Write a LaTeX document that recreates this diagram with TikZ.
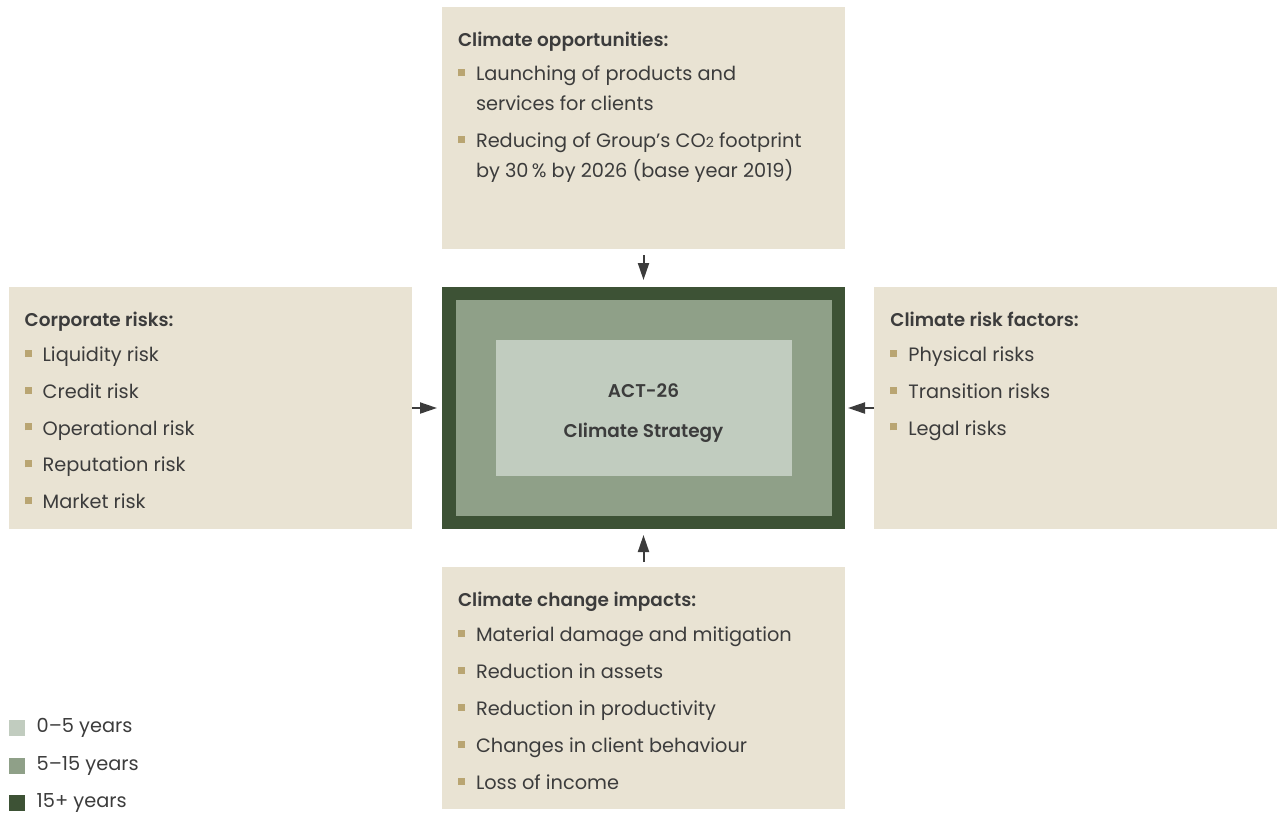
\documentclass[tikz,border=0pt]{standalone}
\usepackage{fontspec}
\setmainfont{Poppins}
\newfontfamily\headfont{Poppins SemiBold}
\definecolor{climateSand}{HTML}{E9E3D3}
\definecolor{climateForest}{HTML}{3D5235}
\definecolor{climateSage}{HTML}{8FA088}
\definecolor{climateMist}{HTML}{C1CCBF}
\definecolor{climateTan}{HTML}{B9A572}
\definecolor{climateInk}{HTML}{3C3C3C}
\usetikzlibrary{arrows.meta, positioning, calc}
\newcommand{\bul}{\makebox[0.36cm][l]{\textcolor{climateTan}{\rule[0.24em]{0.14cm}{0.14cm}}}}
\newcommand{\hang}{\hspace*{0.36cm}}
\newcommand{\head}[1]{{\headfont\fontsize{10.5}{17}\selectfont #1}}

\begin{document}
\begin{tikzpicture}[
    node distance=0.76cm,
    panel/.style={
      fill=climateSand,
      minimum width=8.06cm,
      minimum height=4.84cm,
      inner sep=0pt,
    },
    paneltext/.style={
      anchor=north west,
      inner sep=0pt,
      align=left,
      text=climateInk,
      font=\fontsize{11}{17}\selectfont,
    },
    ring/.style={inner sep=0pt, outer sep=0pt},
    legbox/.style={minimum size=0.32cm, inner sep=0pt},
    legtext/.style={text=climateInk, font=\fontsize{11}{12}\selectfont, inner sep=0pt},
    arr/.style={-{Triangle[length=0.34cm, width=0.22cm]}, climateInk, line width=0.04cm},
  ]
  \useasboundingbox (0,0) rectangle (25.66,-16.24);

  \node[ring, fill=climateForest, minimum width=8.06cm, minimum height=4.84cm] (outer) at (12.87,-8.16) {};
  \node[ring, fill=climateSage, minimum width=7.52cm, minimum height=4.32cm] (middle) at (outer.center) {};
  \node[ring, fill=climateMist, minimum width=5.92cm, minimum height=2.72cm] (coreFill) at (outer.center) {};
  \node[text=climateInk, align=center, font=\headfont\fontsize{10.5}{22.7}\selectfont,
        yshift=-0.1cm] (core) at (coreFill.center) {ACT-26\\Climate Strategy};

  \node[panel, above=of outer] (opps) {};
  \node[panel, left=0.6cm of outer] (corp) {};
  \node[panel, right=0.58cm of outer] (factors) {};
  \node[panel, below=of outer] (impacts) {};

  \node[paneltext] (oppsText) at ($(opps.north west)+(0.32,-0.5)$) {\head{Climate opportunities:}\\[0.1cm]
    \bul Launching of products and\\ \hang services for clients\\[0.14cm]
    \bul Reducing of Group’s CO{\fontsize{8}{9}\selectfont 2} footprint\\ \hang by 30\,\% by 2026 (base year 2019)};
  \node[paneltext] (corpText) at ($(corp.north west)+(0.32,-0.5)$) {\head{Corporate risks:}\\[0.1cm]
    \bul Liquidity risk\\[0.14cm]
    \bul Credit risk\\[0.14cm]
    \bul Operational risk\\[0.14cm]
    \bul Reputation risk\\[0.14cm]
    \bul Market risk};
  \node[paneltext] (factorsText) at ($(factors.north west)+(0.32,-0.5)$) {\head{Climate risk factors:}\\[0.1cm]
    \bul Physical risks\\[0.14cm]
    \bul Transition risks\\[0.14cm]
    \bul Legal risks};
  \node[paneltext] (impactsText) at ($(impacts.north west)+(0.32,-0.5)$) {\head{Climate change impacts:}\\[0.1cm]
    \bul Material damage and mitigation\\[0.14cm]
    \bul Reduction in assets\\[0.14cm]
    \bul Reduction in productivity\\[0.14cm]
    \bul Changes in client behaviour\\[0.14cm]
    \bul Loss of income};

  \draw[arr, shorten <=0.12cm, shorten >=0.14cm] (opps) -- (outer);
  \draw[arr, shorten <=0.1cm, shorten >=0.12cm] (impacts) -- (outer);
  \draw[arr, shorten >=0.1cm] (corp) -- (outer);
  \draw[arr, shorten >=0.06cm] (factors) -- (outer);

  \node[legbox, fill=climateMist] (legShort) at (0.34,-14.56) {};
  \node[legtext, right=0.22cm of legShort] (legShortText) {0–5 years};
  \node[legbox, fill=climateSage] (legMid) at (0.34,-15.32) {};
  \node[legtext, right=0.22cm of legMid] (legMidText) {5–15 years};
  \node[legbox, fill=climateForest] (legLong) at (0.34,-16.06) {};
  \node[legtext, right=0.22cm of legLong] (legLongText) {15+ years};
\end{tikzpicture}
\end{document}
